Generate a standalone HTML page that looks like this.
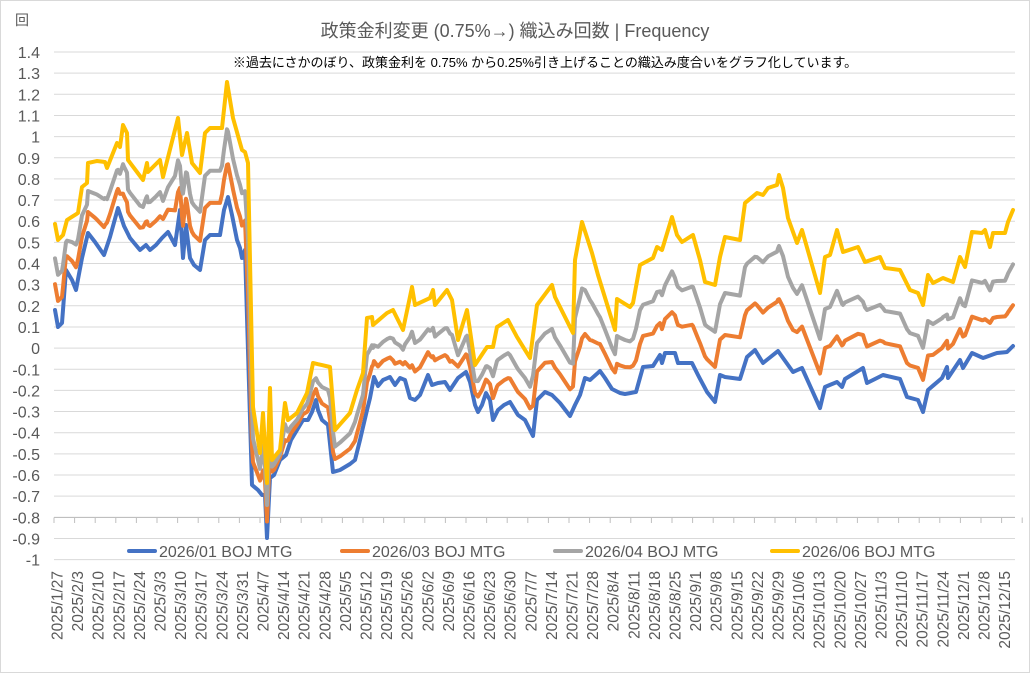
<!DOCTYPE html>
<html><head><meta charset="utf-8"><style>
html,body{margin:0;padding:0;background:#fff}
svg{display:block;font-family:"Liberation Sans","Noto Sans CJK JP",sans-serif}
</style></head><body>
<svg id="s" width="1030" height="673" xmlns="http://www.w3.org/2000/svg">
<rect x="0.5" y="0.5" width="1029" height="672" fill="#fff" stroke="#d9d9d9"/>
<text x="22" y="25" font-size="14" fill="#595959" text-anchor="middle">回</text>
<text x="515" y="37" font-size="18" fill="#595959" text-anchor="middle">政策金利変更 (0.75%→) 織込み回数 | Frequency</text>
<text x="545" y="67" font-size="13" fill="#000" text-anchor="middle">※過去にさかのぼり、政策金利を 0.75% から0.25%引き上げることの織込み度合いをグラフ化しています。</text>
<g id="grid"></g><g id="lines"></g><g id="leg"></g>
</svg>
<script>
const NS="http://www.w3.org/2000/svg",s=document.getElementById('s');
function el(t,a,p,txt){const e=document.createElementNS(NS,t);for(const k in a)e.setAttribute(k,a[k]);if(txt!=null)e.textContent=txt;(p||s).appendChild(e);return e;}
const g=document.getElementById('grid');
const labels=["1.4","1.3","1.2","1.1","1","0.9","0.8","0.7","0.6","0.5","0.4","0.3","0.2","0.1","0","-0.1","-0.2","-0.3","-0.4","-0.5","-0.6","-0.7","-0.8","-0.9","-1"];
for(let k=0;k<25;k++){const y=52+k*21.15;
 el('line',{x1:54,x2:1015,y1:y,y2:y,stroke:'#d9d9d9','stroke-width':1},g);
 el('text',{x:40,y:y+6,'font-size':16,fill:'#595959','text-anchor':'end'},g,labels[k]);}
el('line',{x1:54,x2:1015,y1:517.5,y2:517.5,stroke:'#bfbfbf','stroke-width':1},g);
const dates=[];let d=new Date(2025,0,27);
for(let i=0;i<47;i++){dates.push('2025/'+(d.getMonth()+1)+'/'+d.getDate());d=new Date(d.getTime()+7*864e5);}
for(let i=0;i<=47;i++){const x=54+i*20.6;el('line',{x1:x,x2:x,y1:517.5,y2:523,stroke:'#bfbfbf'},g);}
dates.forEach((t,i)=>{const bx=62.5+i*20.6;
 el('text',{x:0,y:0,'font-size':15.5,fill:'#595959','text-anchor':'end',transform:`translate(${bx},571) rotate(-90)`},g,t);});
const B=[[55,310],[58,327],[62,323],[66,270],[72,280],[76,290],[82,258],[88,233],[95,242],[104,255],[110,237],[118,208],[124,226],[130,238],[140,250],[146,245],[150,250],[156,245],[162,238],[168,232],[175,245],[180,210],[183,258],[186,225],[190,258],[194,265],[200,270],[205,240],[210,235],[220,235],[224,210],[228,197],[232,215],[237,240],[240,248],[242,258],[245,250],[252,485],[258,490],[262,495],[265,495],[267,538],[270,478],[274,475],[280,460],[286,455],[291,440],[297,430],[303,420],[308,420],[312,412],[316,400],[318,410],[322,420],[328,425],[333,472],[340,470],[350,464],[355,460],[360,440],[367,410],[370,398],[374,377],[378,386],[383,380],[390,377],[395,385],[400,378],[405,380],[410,398],[415,400],[420,395],[428,375],[432,385],[438,383],[445,382],[450,390],[458,378],[466,372],[470,382],[475,405],[478,412],[482,405],[486,393],[490,400],[493,420],[498,410],[504,405],[510,402],[518,415],[525,420],[530,430],[533,436],[537,400],[545,392],[552,395],[560,403],[570,416],[575,405],[580,395],[585,378],[590,380],[600,371],[605,378],[612,389],[620,393],[625,394],[636,392],[643,367],[653,366],[660,355],[662,363],[665,353],[675,353],[678,363],[692,363],[698,375],[707,392],[715,402],[720,375],[725,377],[740,379],[747,357],[755,350],[763,363],[778,351],[793,372],[802,368],[820,408],[825,387],[837,382],[842,387],[845,379],[863,368],[867,383],[883,375],[900,379],[907,397],[918,400],[923,412],[928,390],[942,378],[947,367],[948,378],[960,360],[963,368],[972,353],[983,358],[997,353],[1007,352],[1013,346]];
const Y=[[55,224],[58,240],[63,235],[67,220],[78,213],[82,187],[87,183],[88,163],[97,161],[105,162],[107,168],[117,143],[120,147],[123,125],[127,133],[128,160],[143,180],[147,163],[148,172],[160,160],[163,177],[178,118],[182,155],[187,133],[192,163],[200,173],[205,133],[210,128],[222,128],[227,82],[233,118],[242,150],[245,152],[248,163],[253,407],[260,453],[263,413],[267,483],[270,388],[272,460],[280,450],[285,403],[288,420],[297,413],[307,393],[313,363],[330,367],[335,430],[350,413],[357,390],[363,373],[367,318],[372,317],[373,325],[387,313],[393,310],[403,330],[412,287],[415,305],[430,298],[433,290],[435,305],[447,290],[452,300],[458,340],[467,310],[475,365],[487,347],[493,347],[497,327],[508,320],[517,337],[530,358],[537,305],[552,285],[555,297],[573,333],[575,260],[582,222],[592,253],[598,275],[615,330],[617,299],[630,307],[633,303],[640,265],[653,258],[657,247],[662,250],[672,217],[677,235],[682,242],[693,235],[700,260],[705,282],[715,285],[720,257],[725,237],[740,240],[745,203],[757,193],[763,195],[768,188],[777,185],[779,175],[783,188],[788,218],[797,243],[802,230],[812,265],[820,293],[825,257],[830,255],[837,230],[843,252],[858,247],[865,262],[880,257],[885,268],[900,270],[910,290],[918,293],[923,305],[928,275],[933,283],[943,278],[953,282],[960,257],[965,267],[972,232],[982,233],[985,230],[990,247],[993,233],[1005,233],[1008,222],[1013,210]];
function interp(P,x){for(let i=1;i<P.length;i++){if(x<=P[i][0]){const a=P[i-1],b=P[i];const t=(x-a[0])/((b[0]-a[0])||1);return a[1]+t*(b[1]-a[1]);}}return P[P.length-1][1];}
const xs=new Set();B.forEach(p=>xs.add(p[0]));Y.forEach(p=>xs.add(p[0]));
const X=[...xs].sort((a,b)=>a-b);
function series(f){return X.map(x=>{const b=interp(B,x),y=interp(Y,x);return x+','+(b+f*(y-b)).toFixed(1);}).join(' ');}
const L=document.getElementById('lines');
[[0,'#4472c4'],[0.3,'#ed7d31'],[0.6,'#a5a5a5'],[1,'#ffc000']].forEach(([f,c])=>{
 el('polyline',{points:series(f),fill:'none',stroke:c,'stroke-width':4,'stroke-linejoin':'round','stroke-linecap':'round'},L);});
const lg=document.getElementById('leg');
[[127,'#4472c4','2026/01 BOJ MTG'],[340,'#ed7d31','2026/03 BOJ MTG'],[553,'#a5a5a5','2026/04 BOJ MTG'],[770,'#ffc000','2026/06 BOJ MTG']].forEach(([x,c,t])=>{
 el('line',{x1:x+2,x2:x+28,y1:551,y2:551,stroke:c,'stroke-width':4,'stroke-linecap':'round'},lg);
 el('text',{x:x+32,y:557,'font-size':16,fill:'#595959'},lg,t);});
</script>
</body></html>
